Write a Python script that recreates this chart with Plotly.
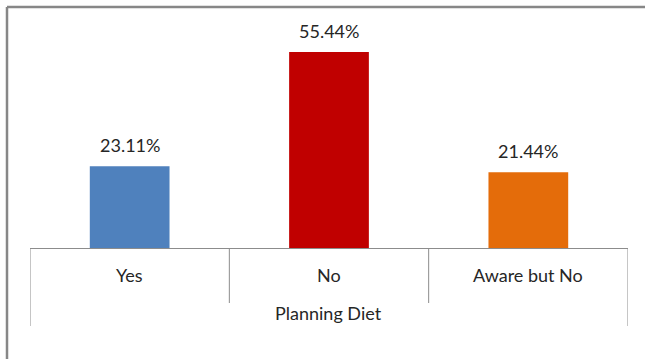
import plotly.graph_objects as go

# Survey responses for "Planning Diet"
categories = ["Yes", "No", "Aware but No"]
shares = [23.11, 55.44, 21.44]
bar_colors = ["#4F81BD", "#C00000", "#E46C0A"]
group_label = "Planning Diet"

W, H = 645, 359
FONT = "Lato, 'Open Sans', sans-serif"
FONT_SIZE = 18
TEXT_COLOR = "#262626"
LINE_COLOR = "#8C8C8C"


def px_x(p):
    return p / W


def px_y(p):
    return (H - p) / H


fig = go.Figure(
    go.Bar(
        x=categories,
        y=shares,
        marker=dict(color=bar_colors, line=dict(width=0)),
        width=0.4,
        hoverinfo="skip",
    )
)

annotations = []
# value labels above bars
for cat, val in zip(categories, shares):
    annotations.append(dict(
        x=cat, y=val, xref="x", yref="y", text=f"{val:.2f}%",
        showarrow=False, yanchor="bottom", yshift=8,
        font=dict(family=FONT, size=FONT_SIZE, color=TEXT_COLOR),
    ))
# category labels under the axis
for cat in categories:
    annotations.append(dict(
        x=cat, y=px_y(275), xref="x", yref="paper", text=cat,
        showarrow=False, yanchor="middle",
        font=dict(family=FONT, size=FONT_SIZE, color=TEXT_COLOR),
    ))
# group label
annotations.append(dict(
    x=px_x(329), y=px_y(313), xref="paper", yref="paper", text=group_label,
    showarrow=False, yanchor="middle",
    font=dict(family=FONT, size=FONT_SIZE, color=TEXT_COLOR),
))

shapes = []
n = len(categories)
# dividers between categories and outer edges of the label block
for i in range(n + 1):
    edge = i - 0.5
    outer = i in (0, n)
    shapes.append(dict(
        type="line", xref="x", yref="paper",
        x0=edge, x1=edge, y0=px_y(248), y1=px_y(326 if outer else 303),
        line=dict(color=LINE_COLOR, width=1),
    ))
# chart frame (top and left edges visible)
shapes.append(dict(
    type="line", xref="paper", yref="paper",
    x0=px_x(7), x1=1.01, y0=px_y(7), y1=px_y(7),
    line=dict(color="#878787", width=2.5),
))
shapes.append(dict(
    type="line", xref="paper", yref="paper",
    x0=px_x(7), x1=px_x(7), y0=px_y(7), y1=-0.01,
    line=dict(color="#878787", width=2.5),
))

fig.update_layout(
    width=W, height=H,
    margin=dict(l=0, r=0, t=0, b=0),
    paper_bgcolor="white",
    plot_bgcolor="white",
    showlegend=False,
    xaxis=dict(
        domain=[px_x(30), px_x(628)],
        range=[-0.5, n - 0.5],
        showticklabels=False, showgrid=False, zeroline=False,
        showline=True, linecolor=LINE_COLOR, linewidth=1,
        ticks="",
        fixedrange=True,
    ),
    yaxis=dict(
        domain=[px_y(248), px_y(36)],
        range=[0, 60],
        visible=False,
        fixedrange=True,
    ),
    annotations=annotations,
    shapes=shapes,
)

fig.write_html("out.html")
